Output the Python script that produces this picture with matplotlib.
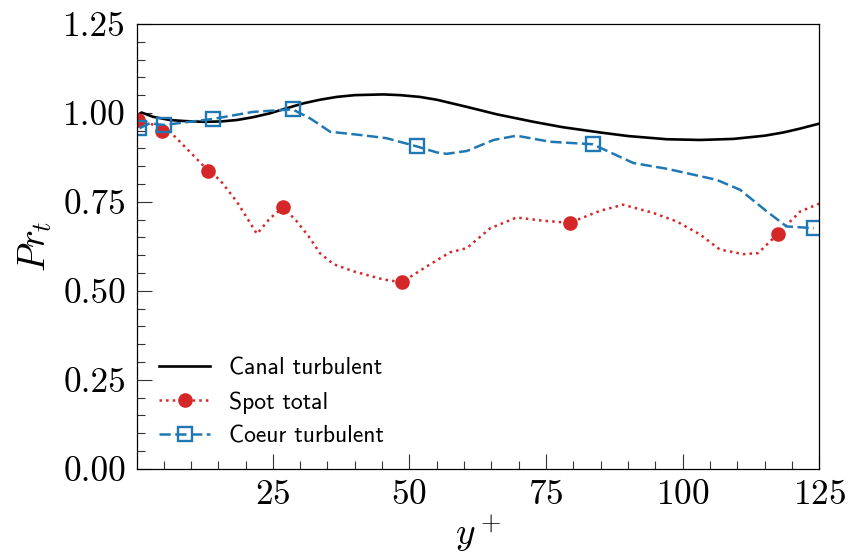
import numpy as np
import matplotlib
matplotlib.use("Agg")
import matplotlib.pyplot as plt

plt.rcParams['mathtext.fontset'] = 'cm'
plt.rcParams['font.family'] = 'serif'
plt.rcParams['font.serif'] = ['cmr10']
plt.rcParams['axes.formatter.use_mathtext'] = True

# canal turbulent (reference curve)
y_canal = [0.2, 1.0, 3.1, 6.2, 9.0, 12.3, 15.5, 18.4, 21.4, 24.5, 27.5, 30.6,
           33.6, 36.7, 40.0, 45.2, 48.3, 51.9, 55.0, 60.5, 66.0, 72.7, 78.0,
           84.9, 90.0, 97.1, 103.2, 109.3, 115.0, 118.4, 121.5, 125.0]
pr_canal = [0.994, 1.001, 0.989, 0.980, 0.977, 0.975, 0.976, 0.980, 0.988, 0.999,
            1.013, 1.027, 1.037, 1.045, 1.050, 1.052, 1.050, 1.045, 1.037, 1.017,
            0.996, 0.975, 0.960, 0.945, 0.935, 0.926, 0.924, 0.927, 0.936, 0.945,
            0.956, 0.970]

# spot total
y_spot = [0.4, 2.5, 4.8, 6.2, 9.8, 13.2, 15.3, 18.4, 22.1, 24.5, 26.9, 29.4,
          31.8, 33.6, 36.1, 39.7, 45.2, 48.6, 53.2, 57.4, 60.5, 64.8, 69.6,
          74.5, 79.3, 84.9, 89.1, 94.6, 98.9, 103.2, 106.8, 111.1, 113.8,
          117.4, 121.5, 125.0]
pr_spot = [0.980, 0.972, 0.949, 0.947, 0.891, 0.837, 0.812, 0.751, 0.660, 0.704,
           0.735, 0.695, 0.648, 0.606, 0.575, 0.555, 0.532, 0.524, 0.569, 0.608,
           0.620, 0.676, 0.706, 0.697, 0.691, 0.725, 0.742, 0.719, 0.695, 0.658,
           0.616, 0.603, 0.606, 0.660, 0.723, 0.745]
mk_spot = [0, 2, 5, 10, 17, 24, 33]

# coeur turbulent
y_coeur = [0.6, 2.5, 5.1, 9.2, 14.0, 21.4, 28.6, 31.8, 35.5, 41.0, 45.8, 51.3,
           55.0, 56.8, 60.5, 65.4, 69.6, 75.7, 83.5, 91.0, 97.1, 106.2, 110.5,
           115.4, 119.0, 124.0]
pr_coeur = [0.957, 0.971, 0.966, 0.974, 0.983, 1.003, 1.010, 0.985, 0.947, 0.938,
            0.929, 0.906, 0.889, 0.885, 0.893, 0.924, 0.936, 0.919, 0.912, 0.859,
            0.843, 0.812, 0.784, 0.723, 0.681, 0.676]
mk_coeur = [0, 2, 4, 6, 11, 18, 25]

fig = plt.figure(figsize=(8.48, 5.55), dpi=100)
ax = fig.add_axes([0.1619, 0.1555, 0.8043, 0.8013])

ax.plot(y_canal, pr_canal, color='black', lw=1.9, label='Canal turbulent')
ax.plot(y_spot, pr_spot, color='#d62728', lw=1.8, ls=':', marker='o', ms=9.5,
        markevery=mk_spot, label='Spot total')
ax.plot(y_coeur, pr_coeur, color='#1f77b4', lw=1.8, ls=(0, (4.5, 1.8)), marker='s',
        ms=9.5, mfc='none', mew=1.7, markevery=mk_coeur, label='Coeur turbulent')

ax.set_xlim(0.2, 125)
ax.set_ylim(0, 1.25)
ax.set_xticks([25, 50, 75, 100, 125])
ax.set_xticks(np.arange(5, 125, 5), minor=True)
ax.set_yticks(np.arange(0, 1.26, 0.25))
ax.set_yticks(np.arange(0, 1.25, 0.05), minor=True)
ax.yaxis.set_major_formatter(matplotlib.ticker.FormatStrFormatter('%.2f'))

ax.tick_params(which='major', direction='in', length=10.5, width=0.8,
               labelsize=25.5, pad=8, color='#333333')
ax.tick_params(which='minor', direction='in', length=6, width=0.8, color='#333333')
for s in ax.spines.values():
    s.set_linewidth(0.9)

ax.set_xlabel(r'$y^+$', fontsize=27, labelpad=1)
ax.set_ylabel(r'$Pr_t$', fontsize=27, labelpad=7)

ax.legend(loc='lower left', frameon=False, handlelength=2.2,
          prop={'family': 'cmss10', 'size': 17})

fig.savefig('out.png', dpi=100)
